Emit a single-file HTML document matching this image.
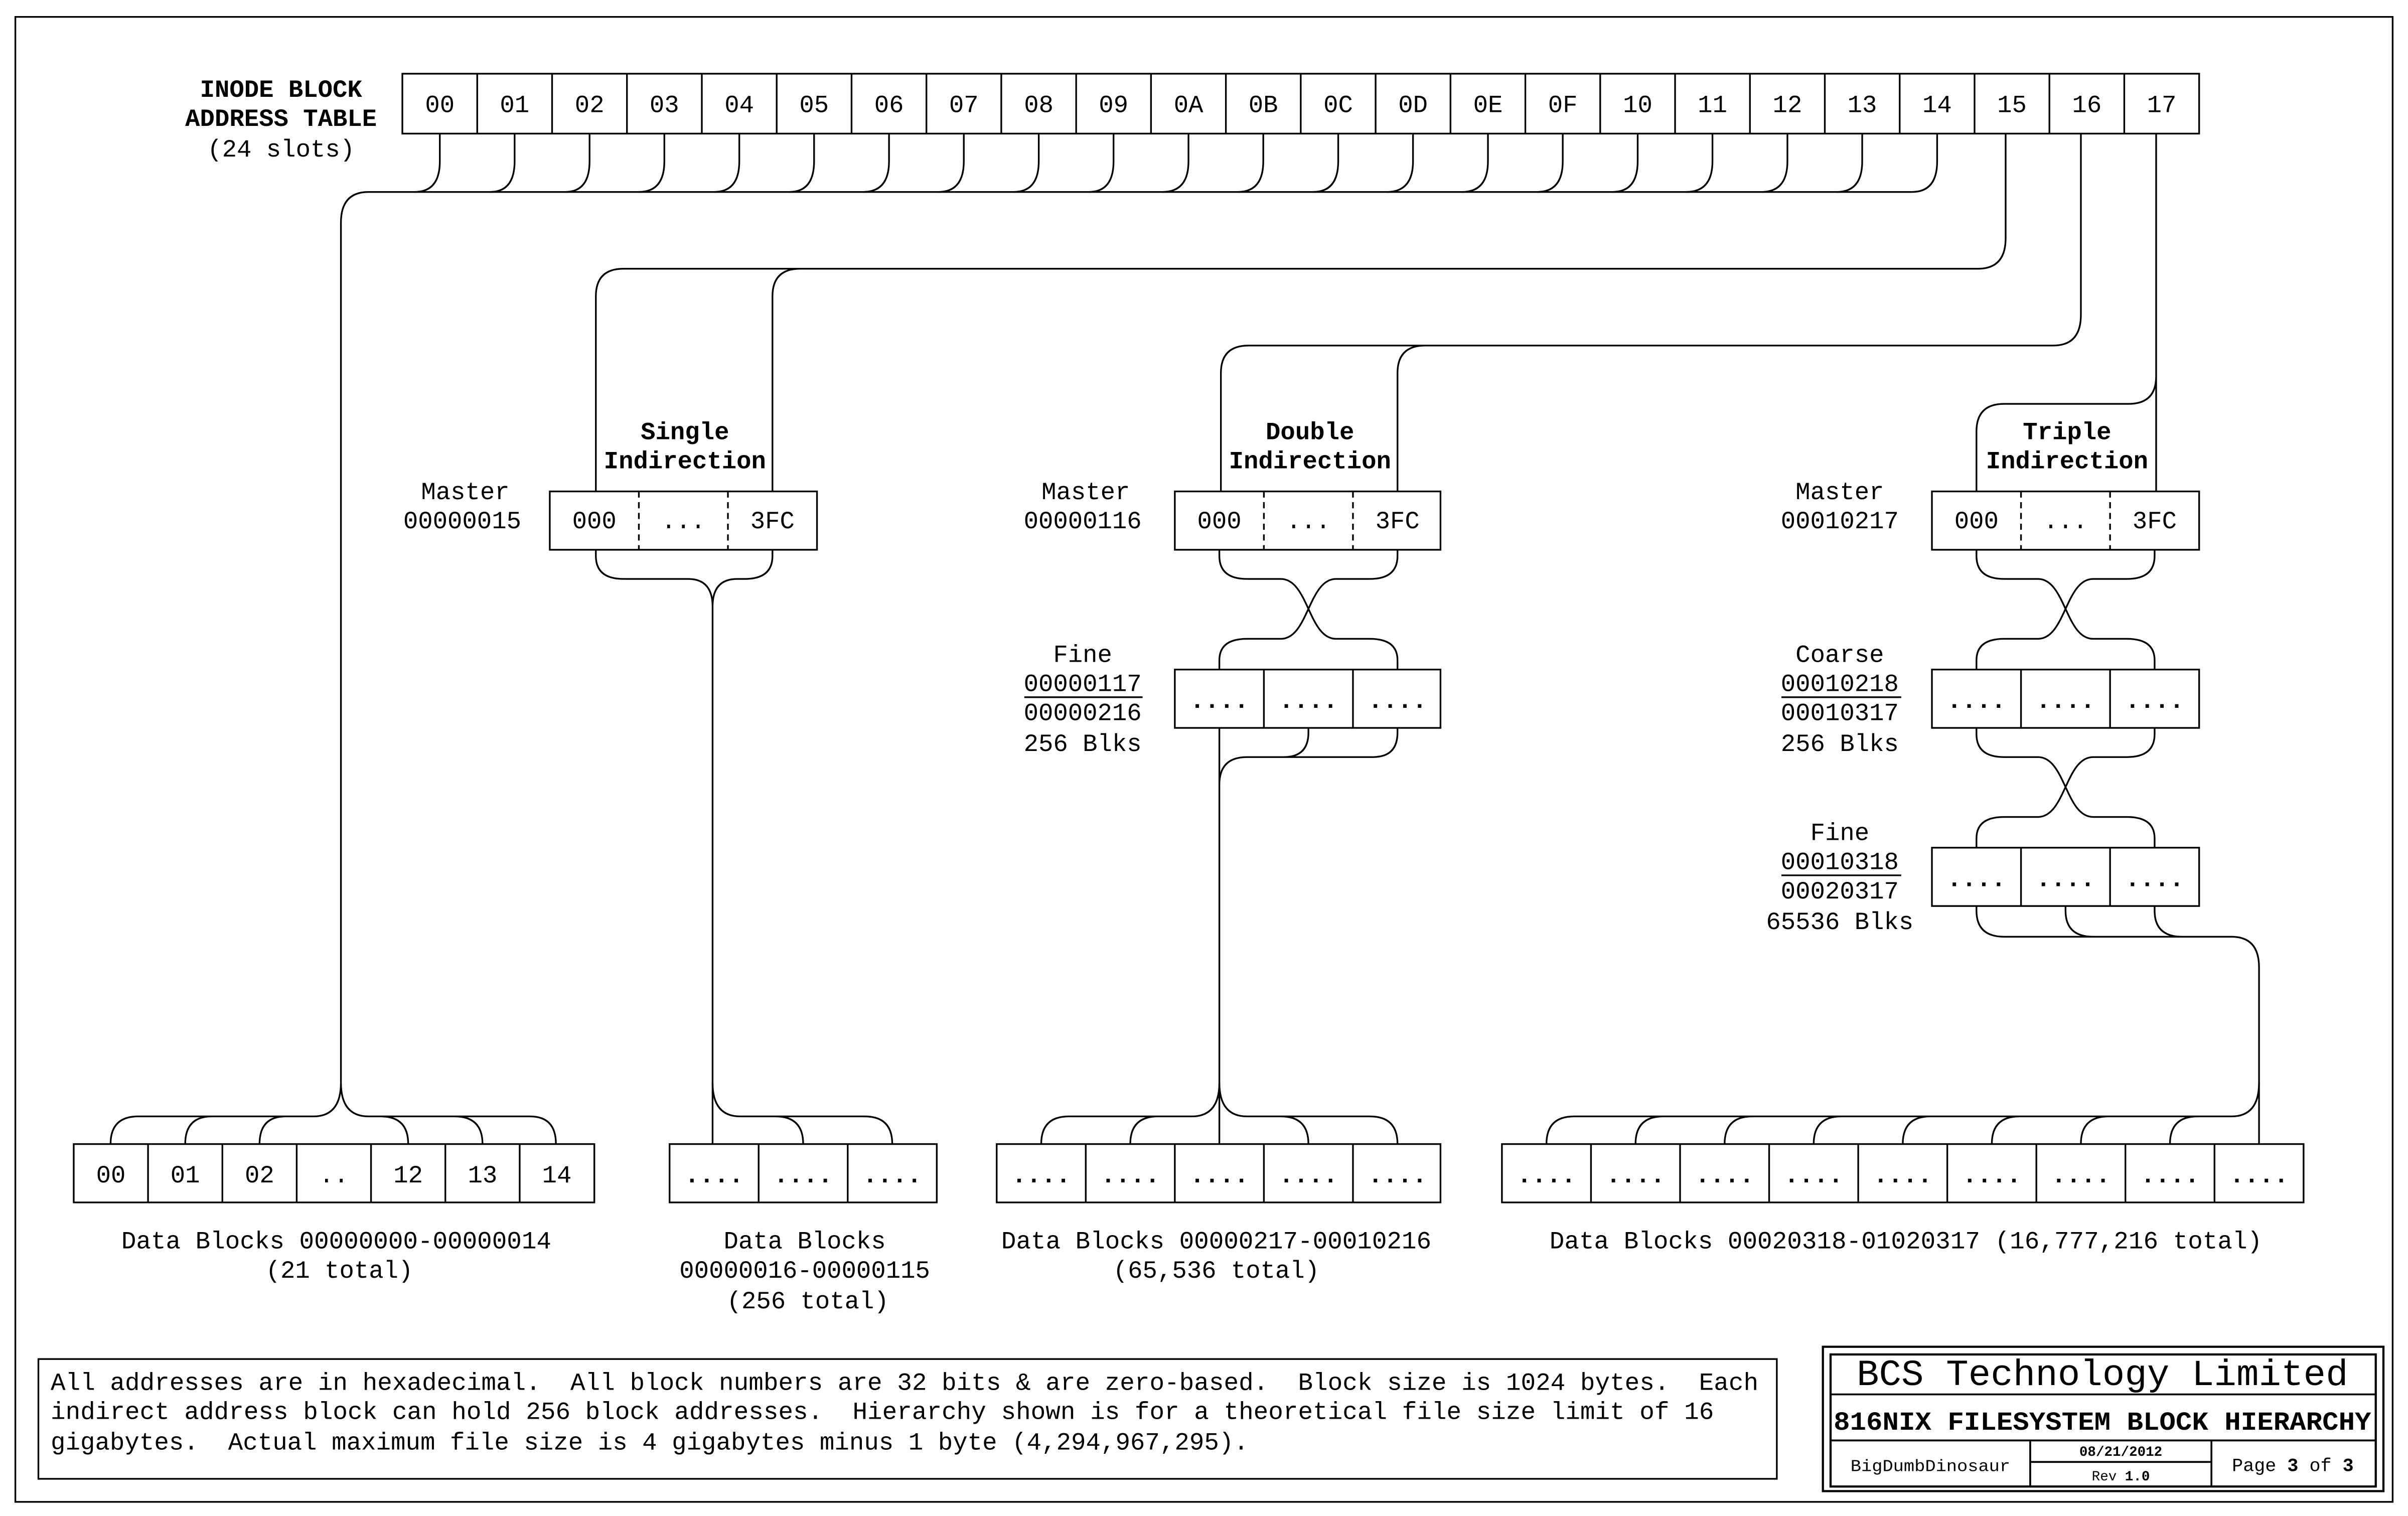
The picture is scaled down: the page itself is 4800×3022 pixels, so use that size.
<!DOCTYPE html>
<html><head><meta charset="utf-8"><style>
html,body{margin:0;padding:0;background:#fff}
svg{display:block}
text{font-family:"Liberation Mono",monospace;fill:#000;white-space:pre}
.c{text-anchor:middle}
.b{font-weight:bold}
</style></head><body>
<svg width="4800" height="3022" viewBox="0 0 1568 987.2" preserveAspectRatio="none" xmlns="http://www.w3.org/2000/svg">
<rect width="1568" height="988" fill="#fff"/>
<g fill="none" stroke="#000" stroke-width="1.1">
<rect x="10" y="11" width="1548" height="967"/>
<rect x="262" y="48" width="1170" height="39"/>
<path d="M310.75 48V87M359.5 48V87M408.25 48V87M457 48V87M505.75 48V87M554.5 48V87M603.25 48V87M652 48V87M700.75 48V87M749.5 48V87M798.25 48V87M847 48V87M895.75 48V87M944.5 48V87M993.25 48V87M1042 48V87M1090.75 48V87M1139.5 48V87M1188.25 48V87M1237 48V87M1285.75 48V87M1334.5 48V87M1383.25 48V87"/>
<path d="M286.4 87V105Q286.4 125 270 125M335.1 87V105Q335.1 125 319 125M383.9 87V105Q383.9 125 368 125M432.6 87V105Q432.6 125 416 125M481.4 87V105Q481.4 125 465 125M530.1 87V105Q530.1 125 514 125M578.9 87V105Q578.9 125 562 125M627.6 87V105Q627.6 125 611 125M676.4 87V105Q676.4 125 660 125M725.1 87V105Q725.1 125 709 125M773.9 87V105Q773.9 125 757 125M822.6 87V105Q822.6 125 806 125M871.4 87V105Q871.4 125 855 125M920.1 87V105Q920.1 125 903 125M968.9 87V105Q968.9 125 952 125M1017.6 87V105Q1017.6 125 1001 125M1066.4 87V105Q1066.4 125 1050 125M1115.1 87V105Q1115.1 125 1098 125M1163.9 87V105Q1163.9 125 1147 125M1212.6 87V105Q1212.6 125 1196 125M1261.4 87V105Q1261.4 125 1245 125"/>
<path d="M1245 125H240Q222 125 222 145V705"/>
<path d="M1306 87V155Q1306 175 1288 175H406Q388 175 388 193V320M521 175Q503 175 503 193V320"/>
<path d="M1355 87V205Q1355 225 1337 225H813Q795 225 795 243V320M928 225Q910 225 910 243V320"/>
<path d="M1404 87V320M1404 245Q1404 263 1386 263H1305Q1287 263 1287 281V320"/>
<rect x="358" y="320" width="174" height="38"/>
<path d="M416 320V358M474 320V358" stroke-dasharray="4 3"/>
<path d="M388 358V362Q388 377 406 377H448Q464 377 464 395V745M503 358V362Q503 377 485 377H480Q464 377 464 395"/>
<rect x="765" y="320" width="173" height="38"/>
<path d="M823 320V358M881 320V358" stroke-dasharray="4 3"/>
<path d="M794 358V362Q794 377 812 377H834C852 377 852 416 870 416H892Q910 416 910 430V436M910 358V362Q910 377 892 377H870C852 377 852 416 834 416H812Q794 416 794 430V436"/>
<rect x="765" y="436" width="173" height="38"/>
<path d="M823 436V474M881 436V474"/>
<path d="M794 474V745M852 474V477Q852 493 836 493H812Q794 493 794 511M910 474V477Q910 493 894 493H836"/>
<rect x="1258" y="320" width="174" height="38"/>
<path d="M1316 320V358M1374 320V358" stroke-dasharray="4 3"/>
<path d="M1287 358V362Q1287 377 1305 377H1327C1345 377 1345 416 1363 416H1385Q1403 416 1403 430V436M1403 358V362Q1403 377 1385 377H1363C1345 377 1345 416 1327 416H1305Q1287 416 1287 430V436"/>
<rect x="1258" y="436" width="174" height="38"/>
<path d="M1316 436V474M1374 436V474"/>
<path d="M1287 474V478Q1287 493 1305 493H1327C1345 493 1345 532 1363 532H1385Q1403 532 1403 546V552M1403 474V478Q1403 493 1385 493H1363C1345 493 1345 532 1327 532H1305Q1287 532 1287 546V552"/>
<rect x="1258" y="552" width="174" height="38"/>
<path d="M1316 552V590M1374 552V590"/>
<path d="M1287 590V593Q1287 610 1305 610H1453Q1471 610 1471 630V745M1345 590V593Q1345 610 1363 610M1403 590V593Q1403 610 1421 610"/>
<rect x="48" y="745" width="339" height="38"/>
<path d="M96.4 745V783M144.8 745V783M193.2 745V783M241.6 745V783M290 745V783M338.4 745V783"/>
<path d="M222 705Q222 727 204 727H90Q72 727 72 745M222 705Q222 727 240 727H345Q362 727 362 745M120.6 745Q120.6 727 138 727M169 745Q169 727 186 727M265.8 745Q265.8 727 248 727M314.2 745Q314.2 727 296 727"/>
<rect x="436" y="745" width="174" height="38"/>
<path d="M494 745V783M552 745V783"/>
<path d="M464 705Q464 727 482 727H563Q581 727 581 745M523 745Q523 727 505 727"/>
<rect x="649" y="745" width="289" height="38"/>
<path d="M707 745V783M765 745V783M823 745V783M881 745V783"/>
<path d="M794 705Q794 727 776 727H696Q678 727 678 745M736 745Q736 727 754 727M794 705Q794 727 812 727H892Q910 727 910 745M852 745Q852 727 834 727"/>
<rect x="978" y="745" width="522" height="38"/>
<path d="M1036 745V783M1094 745V783M1152 745V783M1210 745V783M1268 745V783M1326 745V783M1384 745V783M1442 745V783"/>
<path d="M1471 705Q1471 727 1453 727H1025Q1007 727 1007 745M1065 745Q1065 727 1083 727M1123 745Q1123 727 1141 727M1181 745Q1181 727 1199 727M1239 745Q1239 727 1257 727M1297 745Q1297 727 1315 727M1355 745Q1355 727 1373 727M1413 745Q1413 727 1431 727"/>
<path d="M667 454H744M1160 454H1238M1160 570H1238"/>
<rect x="25" y="885" width="1132" height="78"/>
<rect x="1187" y="877" width="365" height="94" stroke-width="1.4"/>
<rect x="1192" y="882" width="355" height="86" stroke-width="1.4"/>
<path d="M1192 908H1547M1192 938H1547M1322 938V968M1440 938V968M1322 952H1440" stroke-width="1.2"/>
</g>
<g font-size="16">
<text class="c b" x="183" y="63">INODE BLOCK</text>
<text class="c b" x="183" y="82">ADDRESS TABLE</text>
<text class="c" x="183" y="102">(24 slots)</text>
<text class="c" x="286.4" y="73">00</text><text class="c" x="335.1" y="73">01</text><text class="c" x="383.9" y="73">02</text><text class="c" x="432.6" y="73">03</text><text class="c" x="481.4" y="73">04</text><text class="c" x="530.1" y="73">05</text><text class="c" x="578.9" y="73">06</text><text class="c" x="627.6" y="73">07</text><text class="c" x="676.4" y="73">08</text><text class="c" x="725.1" y="73">09</text><text class="c" x="773.9" y="73">0A</text><text class="c" x="822.6" y="73">0B</text><text class="c" x="871.4" y="73">0C</text><text class="c" x="920.1" y="73">0D</text><text class="c" x="968.9" y="73">0E</text><text class="c" x="1017.6" y="73">0F</text><text class="c" x="1066.4" y="73">10</text><text class="c" x="1115.1" y="73">11</text><text class="c" x="1163.9" y="73">12</text><text class="c" x="1212.6" y="73">13</text><text class="c" x="1261.4" y="73">14</text><text class="c" x="1310.1" y="73">15</text><text class="c" x="1358.9" y="73">16</text><text class="c" x="1407.6" y="73">17</text>

<text class="c b" x="446" y="286">Single</text><text class="c b" x="446" y="305">Indirection</text>
<text class="c b" x="853" y="286">Double</text><text class="c b" x="853" y="305">Indirection</text>
<text class="c b" x="1346" y="286">Triple</text><text class="c b" x="1346" y="305">Indirection</text>

<text class="c" x="303" y="325">Master</text><text class="c" x="301" y="344">00000015</text>
<text class="c" x="707" y="325">Master</text><text class="c" x="705" y="344">00000116</text>
<text class="c" x="1198" y="325">Master</text><text class="c" x="1198" y="344">00010217</text>

<text class="c" x="387" y="344">000</text><text class="c" x="445" y="344">...</text><text class="c" x="503" y="344">3FC</text>
<text class="c" x="794" y="344">000</text><text class="c" x="852" y="344">...</text><text class="c" x="910" y="344">3FC</text>
<text class="c" x="1287" y="344">000</text><text class="c" x="1345" y="344">...</text><text class="c" x="1403" y="344">3FC</text>

<text class="c" x="705" y="431">Fine</text><text class="c" x="705" y="450">00000117</text><text class="c" x="705" y="469">00000216</text><text class="c" x="705" y="489">256 Blks</text>
<text class="c" x="1198" y="431">Coarse</text><text class="c" x="1198" y="450">00010218</text><text class="c" x="1198" y="469">00010317</text><text class="c" x="1198" y="489">256 Blks</text>
<text class="c" x="1198" y="547">Fine</text><text class="c" x="1198" y="566">00010318</text><text class="c" x="1198" y="585">00020317</text><text class="c" x="1198" y="605">65536 Blks</text>

<g class="b">
<text class="c" x="794" y="461">....</text><text class="c" x="852" y="461">....</text><text class="c" x="910" y="461">....</text>
<text class="c" x="1287" y="461">....</text><text class="c" x="1345" y="461">....</text><text class="c" x="1403" y="461">....</text>
<text class="c" x="1287" y="577">....</text><text class="c" x="1345" y="577">....</text><text class="c" x="1403" y="577">....</text>
<text class="c" x="465" y="770">....</text><text class="c" x="523" y="770">....</text><text class="c" x="581" y="770">....</text>
<text class="c" x="678" y="770">....</text><text class="c" x="736" y="770">....</text><text class="c" x="794" y="770">....</text><text class="c" x="852" y="770">....</text><text class="c" x="910" y="770">....</text>
<text class="c" x="1007" y="770">....</text><text class="c" x="1065" y="770">....</text><text class="c" x="1123" y="770">....</text><text class="c" x="1181" y="770">....</text><text class="c" x="1239" y="770">....</text><text class="c" x="1297" y="770">....</text><text class="c" x="1355" y="770">....</text><text class="c" x="1413" y="770">....</text><text class="c" x="1471" y="770">....</text>
</g>
<text class="c" x="72.2" y="770">00</text><text class="c" x="120.6" y="770">01</text><text class="c" x="169" y="770">02</text><text class="c" x="217.4" y="770">..</text><text class="c" x="265.8" y="770">12</text><text class="c" x="314.2" y="770">13</text><text class="c" x="362.6" y="770">14</text>

<text class="c" x="219" y="813" textLength="280" lengthAdjust="spacingAndGlyphs">Data Blocks 00000000-00000014</text><text class="c" x="221" y="832">(21 total)</text>
<text class="c" x="524" y="813">Data Blocks</text><text class="c" x="524" y="832">00000016-00000115</text><text class="c" x="526" y="852">(256 total)</text>
<text class="c" x="792" y="813" textLength="280" lengthAdjust="spacingAndGlyphs">Data Blocks 00000217-00010216</text><text class="c" x="792" y="832">(65,536 total)</text>
<text class="c" x="1241" y="813" textLength="464" lengthAdjust="spacingAndGlyphs">Data Blocks 00020318-01020317 (16,777,216 total)</text>

<text x="33" y="905" textLength="1112" lengthAdjust="spacingAndGlyphs">All addresses are in hexadecimal.  All block numbers are 32 bits &amp; are zero-based.  Block size is 1024 bytes.  Each</text>
<text x="33" y="924" textLength="1083" lengthAdjust="spacingAndGlyphs">indirect address block can hold 256 block addresses.  Hierarchy shown is for a theoretical file size limit of 16</text>
<text x="33" y="944" textLength="780" lengthAdjust="spacingAndGlyphs">gigabytes.  Actual maximum file size is 4 gigabytes minus 1 byte (4,294,967,295).</text>
</g>
<text class="c" x="1369" y="902" font-size="24" textLength="320" lengthAdjust="spacingAndGlyphs">BCS Technology Limited</text>
<text class="c b" x="1369" y="931" font-size="17" textLength="350" lengthAdjust="spacingAndGlyphs">816NIX FILESYSTEM BLOCK HIERARCHY</text>
<text class="c" x="1257" y="958" font-size="11" textLength="104" lengthAdjust="spacingAndGlyphs">BigDumbDinosaur</text>
<text class="c b" x="1381" y="948" font-size="9">08/21/2012</text>
<text class="c" x="1381" y="964" font-size="9">Rev <tspan font-weight="bold">1.0</tspan></text>
<text class="c" x="1493" y="958" font-size="12">Page <tspan font-weight="bold">3</tspan> of <tspan font-weight="bold">3</tspan></text>
</svg>
</body></html>
